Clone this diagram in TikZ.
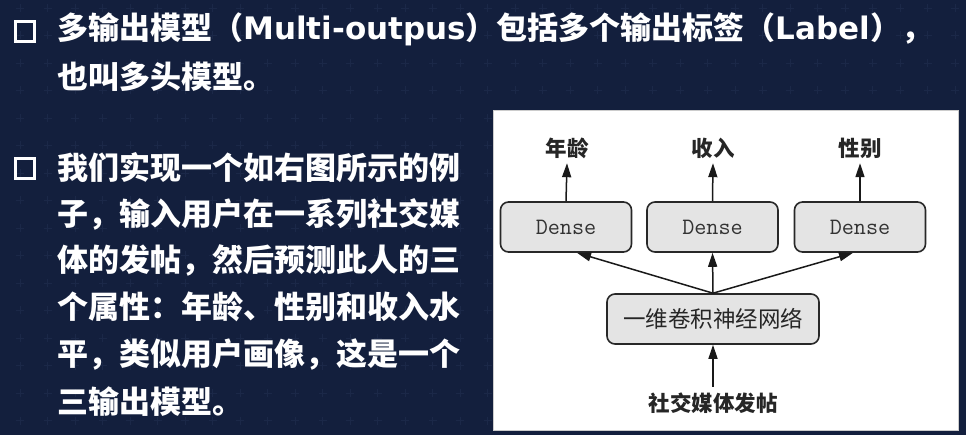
\documentclass[tikz,border=0pt]{standalone}
\usepackage{fontspec}
\usetikzlibrary{calc,arrows.meta}
\newfontfamily\cjk{Noto Sans CJK SC}
\newfontfamily\latinbold{DejaVu Sans}
\definecolor{slidebg}{RGB}{19,31,61}
\definecolor{gridmark}{RGB}{27,40,72}
\definecolor{boxfill}{RGB}{228,228,228}
\definecolor{boxline}{RGB}{40,40,40}
\newcommand{\lat}[1]{{\latinbold\bfseries #1}}
\tikzset{
  bullettext/.style={anchor=west, inner sep=0pt, text=white,
    font=\cjk\bfseries\fontsize{31}{31}\selectfont},
  bulletbox/.style={draw=white, line width=3.6pt},
  layerbox/.style={draw=boxline, fill=boxfill, rounded corners=8pt,
    line width=1.6pt, inner sep=0pt},
  densebox/.style={layerbox, minimum width=131pt, minimum height=50pt,
    font=\ttfamily\fontsize{23.5}{23.5}\selectfont, text=black!80},
  outlabel/.style={inner sep=0pt, minimum height=30pt,
    font=\cjk\bfseries\fontsize{21.5}{21.5}\selectfont, text=black!85},
  flow/.style={line width=1.5pt, draw=black!90,
    -{Triangle[length=14pt,width=9pt]}},
}
\begin{document}
\begin{tikzpicture}[x=1pt,y=-1pt]
  % slide background
  \fill[slidebg] (0,0) rectangle (966,435);
  \useasboundingbox (0,0) rectangle (966,435);
  % faint cross pattern of the slide
  \foreach \gx in {20,47.5,...,966} {
    \foreach \gy in {8,35.5,...,435} {
      \draw[gridmark, line width=0.8pt] (\gx-4,\gy) -- (\gx+4,\gy)
        (\gx,\gy-4) -- (\gx,\gy+4);
    }
  }

  % bullet points
  \draw[bulletbox] (15.5,21.5) rectangle (34.5,41.5);
  \node[bullettext] (t1) at (57,29) {多输出模型（\lat{Multi-outpus}）包括多个输出标签（\lat{Label}），};
  \node[bullettext] (t2) at (57,77) {也叫多头模型。};

  \draw[bulletbox] (15.5,158.5) rectangle (34.5,178.5);
  \node[bullettext] (s1) at (57,168) {我们实现一个如右图所示的例};
  \node[bullettext] (s2) at (57,214) {子，输入用户在一系列社交媒};
  \node[bullettext] (s3) at (57,260) {体的发帖，然后预测此人的三};
  \node[bullettext] (s4) at (57,307) {个属性：年龄、性别和收入水};
  \node[bullettext] (s5) at (57,355) {平，类似用户画像，这是一个};
  \node[bullettext] (s6) at (57,402) {三输出模型。};

  % diagram panel
  \fill[white] (493,110) rectangle (959,431);
  \draw[black!20, line width=1pt] (493.5,110.5) rectangle (958.5,430.5);

  % three-headed model
  \node[densebox] (d1) at (566,227) {Dense};
  \node[densebox] (d2) at (712.5,227) {Dense};
  \node[densebox] (d3) at (860,227) {Dense};
  \node[layerbox, minimum width=212pt, minimum height=50pt,
    font=\cjk\fontsize{22.5}{22.5}\selectfont, text=black!85] (cnn) at (713,319) {一维卷积神经网络};

  \node[outlabel] (age) at (567,148) {年龄};
  \node[outlabel] (income) at (713,148) {收入};
  \node[outlabel] (gender) at (860,148) {性别};
  \node[outlabel, minimum height=32pt] (posts) at (713,403) {社交媒体发帖};

  \draw[flow] (d1.north) -- (age.south);
  \draw[flow] (d2.north) -- (income.south);
  \draw[flow] (d3.north) -- (gender.south);
  \draw[flow] (cnn.north) -- ($(d1.south)+(11,0)$);
  \draw[flow] (cnn.north) -- (d2.south);
  \draw[flow] (cnn.north) -- ($(d3.south)+(-7,0)$);
  \draw[flow] (posts.north) -- (cnn.south);
\end{tikzpicture}
\end{document}
